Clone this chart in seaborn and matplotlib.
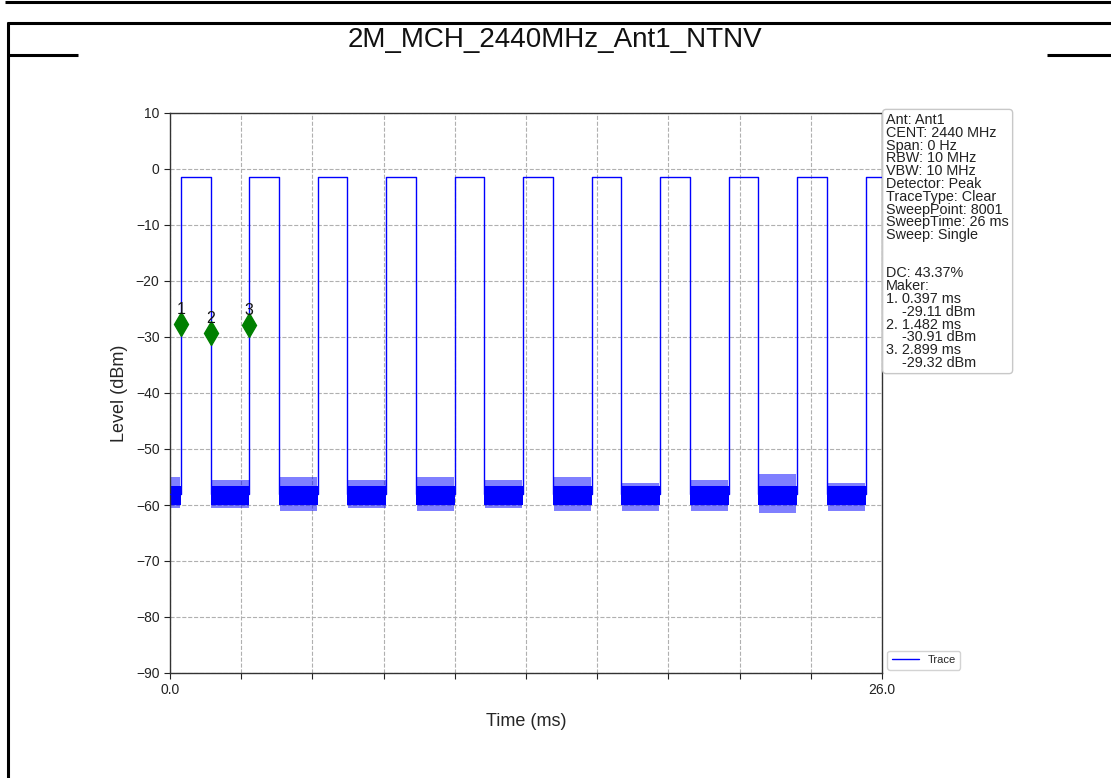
import numpy as np
import pandas as pd
import matplotlib
matplotlib.use("Agg")
import matplotlib.pyplot as plt
from matplotlib.lines import Line2D
import seaborn as sns

# ---------------- data ----------------
title = "2M_MCH_2440MHz_Ant1_NTNV"
sweep_time = 26.0
rise_times = [0.397, 2.899, 5.40, 7.90, 10.40, 12.90, 15.40, 17.90, 20.40, 22.90, 25.40]
fall_times = [1.482, 3.98, 6.48, 8.98, 11.48, 13.98, 16.48, 18.98, 21.48, 23.98]
high_level = -1.5
low_level = -58.0
noise_core_lo = -60.0
noise_core_hi = -56.6
noise_min = [-60.5, -60.5, -61.0, -60.5, -61.0, -60.5, -61.0, -61.0, -61.0, -61.5, -61.0]
noise_max = [-55.0, -55.5, -55.0, -55.5, -55.0, -55.5, -55.0, -56.0, -55.5, -54.5, -56.0]
marker_labels = ["1", "2", "3"]
marker_times = [0.397, 1.482, 2.899]
marker_levels = [-27.7, -29.3, -27.9]
info_lines = ["Ant: Ant1", "CENT: 2440 MHz", "Span: 0 Hz", "RBW: 10 MHz", "VBW: 10 MHz",
              "Detector: Peak", "TraceType: Clear", "SweepPoint: 8001", "SweepTime: 26 ms",
              "Sweep: Single", "", "", "DC: 43.37%", "Maker:", "1. 0.397 ms", "    -29.11 dBm",
              "2. 1.482 ms", "    -30.91 dBm", "3. 2.899 ms", "    -29.32 dBm"]
y_ticks = list(range(-90, 11, 10))
x_tick_count = 11

# ---------------- build the trace polyline ----------------
xs = [0.0]
ys = [low_level]
for i, r in enumerate(rise_times):
    xs += [r, r]
    ys += [low_level, high_level]
    if i < len(fall_times):
        f = fall_times[i]
        xs += [f, f]
        ys += [high_level, low_level]
xs.append(sweep_time)
ys.append(high_level if len(rise_times) > len(fall_times) else low_level)
df = pd.DataFrame({"Time (ms)": xs, "Level (dBm)": ys})

seg_starts = [0.0] + fall_times
seg_ends = rise_times

# ---------------- figure ----------------
sns.set_style("ticks")
plt.rcParams["font.family"] = ["Liberation Sans", "DejaVu Sans"]

W, H = 1111, 778
fig = plt.figure(figsize=(W / 100, H / 100), dpi=100)
fig.patch.set_facecolor("white")

def px(x, y):
    return x / W, 1 - y / H

# document frame
lw = 2.2
for (x0, y0, x1, y1) in [(5, 2, 1111, 2), (7, 23, 1111, 23), (8, 22, 8, 778),
                         (7, 55, 78, 55), (1047, 55, 1111, 55)]:
    a, b = px(x0, y0)
    c, d = px(x1, y1)
    fig.add_artist(Line2D([a, c], [b, d], transform=fig.transFigure, color="black", lw=lw,
                          solid_capstyle="butt"))
tx, ty = px(555, 40)
fig.text(tx, ty, title, ha="center", va="center", fontsize=20, color="#111111")

ax = fig.add_axes([170 / W, 1 - 673 / H, (882 - 170) / W, (673 - 113) / H])
ax.set_facecolor("white")

# noise bands
for s, e, mn, mx in zip(seg_starts, seg_ends, noise_min, noise_max):
    ax.fill_between([s, e], [noise_core_lo] * 2, [noise_core_hi] * 2, color="blue", lw=0, zorder=2)
    ax.fill_between([s + 0.03, e - 0.03], [mn] * 2, [mx] * 2, color="blue", alpha=0.5, lw=0, zorder=2)

sns.lineplot(data=df, x="Time (ms)", y="Level (dBm)", sort=False, estimator=None,
             color="blue", lw=1.0, ax=ax, label="Trace", zorder=3)

# markers
ax.plot(marker_times, marker_levels, linestyle="none", marker="d", markersize=12,
        color="green", zorder=4)
for lab, t, v in zip(marker_labels, marker_times, marker_levels):
    ax.annotate(lab, (t, v), xytext=(0, 5), textcoords="offset points", ha="center",
                va="bottom", fontsize=11.5, color="#111111", zorder=5)

ax.set_xlim(0, sweep_time)
ax.set_ylim(-90, 10)
ax.set_yticks(y_ticks)
xt = np.linspace(0, sweep_time, x_tick_count)
ax.set_xticks(xt)
ax.set_xticklabels([f"{v:.1f}" if i in (0, x_tick_count - 1) else "" for i, v in enumerate(xt)])
ax.tick_params(axis="both", labelsize=10, colors="#222222", direction="out", length=4)
ax.grid(True, linestyle="--", color="#b0b0b0", lw=0.8)
ax.set_axisbelow(True)
for sp in ax.spines.values():
    sp.set_visible(True)
    sp.set_color("#333333")
    sp.set_linewidth(1.0)
ax.set_xlabel("Time (ms)", fontsize=13, labelpad=11)
ax.set_ylabel("Level (dBm)", fontsize=13, labelpad=6)

ax.text(1.006, 1.0, "\n".join(info_lines), transform=ax.transAxes, ha="left", va="top",
        fontsize=10.4, linespacing=0.89, color="#222222",
        bbox=dict(boxstyle="round,pad=0.25", facecolor="white", edgecolor="#c8c8c8", lw=1.0))

leg = ax.legend(loc="lower left", bbox_to_anchor=(1.003, 0.0), fontsize=8, frameon=True,
                borderaxespad=0.3, handlelength=2.4)
leg.get_frame().set_edgecolor("#c8c8c8")

fig.savefig("out.png", dpi=100)
